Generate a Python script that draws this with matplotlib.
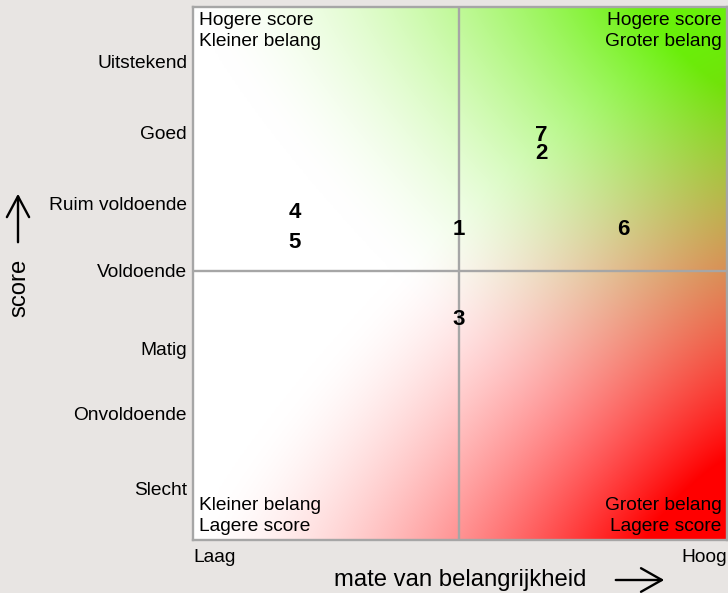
import numpy as np
import matplotlib
matplotlib.use("Agg")
import matplotlib.pyplot as plt
from matplotlib.patches import FancyArrowPatch

plt.rcParams['font.family'] = ['Liberation Sans', 'DejaVu Sans']

# ---- data ----
score_labels = ["Slecht", "Onvoldoende", "Matig", "Voldoende",
                "Ruim voldoende", "Goed", "Uitstekend"]
score_ticks = [0.96, 2.38, 3.60, 5.05, 6.32, 7.64, 8.97]
item_labels = ["1", "2", "3", "4", "5", "6", "7"]
importance = [4.98, 6.52, 4.98, 1.91, 1.91, 8.05, 6.52]
scores = [5.83, 7.26, 4.14, 6.15, 5.59, 5.83, 7.58]
x_split = 4.98
y_split = 5.05
corner_texts = ["Hogere score\nKleiner belang", "Hogere score\nGroter belang",
                "Kleiner belang\nLagere score", "Groter belang\nLagere score"]

W, H = 728, 593
BG = '#e8e5e3'
GRID = '#a6a6a6'

fig = plt.figure(figsize=(W / 100, H / 100), dpi=100, facecolor=BG)
ax = fig.add_axes([193 / W, 53 / H, 534 / W, 533 / H])
ax.set_xlim(0, 10)
ax.set_ylim(0, 10)

# ---- background gradient (green from top-right, red from bottom-right) ----
n = 400
u = np.linspace(0, 1, n)[None, :].repeat(n, 0)
v = np.linspace(0, 1, n)[:, None].repeat(n, 1)
p, d0, d1, gam = 1.2, 1.0, 0.15, 1.6


def ramp(du, dv):
    d = (du ** p + dv ** p) ** (1 / p)
    t = np.clip((d0 - d) / (d0 - d1), 0, 1)
    return t ** gam


ag = ramp(1 - u, 1 - v)
ar = ramp(1 - u, v)
green = np.array([105, 240, 10]) / 255
red = np.array([255, 0, 0]) / 255
img = np.ones((n, n, 3))
img = img * (1 - ag[..., None]) + green * ag[..., None]
img = img * (1 - ar[..., None]) + red * ar[..., None]
ax.imshow(img, extent=[0, 10, 0, 10], origin='lower', aspect='auto',
          interpolation='bilinear', zorder=0)

ax.axvline(x_split, color=GRID, lw=1.7, zorder=1)
ax.axhline(y_split, color=GRID, lw=1.7, zorder=1)

for sp in ax.spines.values():
    sp.set_color(GRID)
    sp.set_linewidth(1.7)

ax.set_xticks([])
ax.set_yticks(score_ticks)
ax.set_yticklabels(score_labels, fontsize=13.8)
ax.tick_params(axis='y', length=0, pad=4.3)

for lab, xv, yv in zip(item_labels, importance, scores):
    ax.text(xv, yv, lab, fontsize=16, fontweight='bold', ha='center',
            va='center', zorder=3)

fs = 13.8
ls = 1.28
ax.annotate(corner_texts[0], xy=(0, 1), xycoords='axes fraction', xytext=(4, -3.5),
            textcoords='offset points', ha='left', va='top', fontsize=fs, linespacing=ls)
ax.annotate(corner_texts[1], xy=(1, 1), xycoords='axes fraction', xytext=(-4, -3.5),
            textcoords='offset points', ha='right', va='top', fontsize=fs, linespacing=ls,
            multialignment='right')
ax.annotate(corner_texts[2], xy=(0, 0), xycoords='axes fraction', xytext=(4, 3.8),
            textcoords='offset points', ha='left', va='bottom', fontsize=fs, linespacing=ls)
ax.annotate(corner_texts[3], xy=(1, 0), xycoords='axes fraction', xytext=(-4, 3.8),
            textcoords='offset points', ha='right', va='bottom', fontsize=fs, linespacing=ls,
            multialignment='right')

# axis end labels
fig.text(193 / W, 1 - 557 / H, "Laag", ha='left', va='center', fontsize=fs)
fig.text(727 / W, 1 - 557 / H, "Hoog", ha='right', va='center', fontsize=fs)

# axis titles
fig.text(460 / W, 1 - 580 / H, "mate van belangrijkheid", ha='center', va='center',
         fontsize=17.2)
fig.text(19 / W, 1 - 288 / H, "score", ha='center', va='center', fontsize=17.2,
         rotation=90)

# arrows
arr_r = FancyArrowPatch((613 / W, 1 - 580 / H), (667 / W, 1 - 580 / H),
                        transform=fig.transFigure, arrowstyle='->,head_length=15,head_width=8.5',
                        lw=1.7, color='black', mutation_scale=1)
arr_u = FancyArrowPatch((18 / W, 1 - 245 / H), (18 / W, 1 - 191 / H),
                        transform=fig.transFigure, arrowstyle='->,head_length=15,head_width=8',
                        lw=1.7, color='black', mutation_scale=1)
fig.patches.extend([arr_r, arr_u])

fig.savefig('out.png', dpi=100, facecolor=BG)
